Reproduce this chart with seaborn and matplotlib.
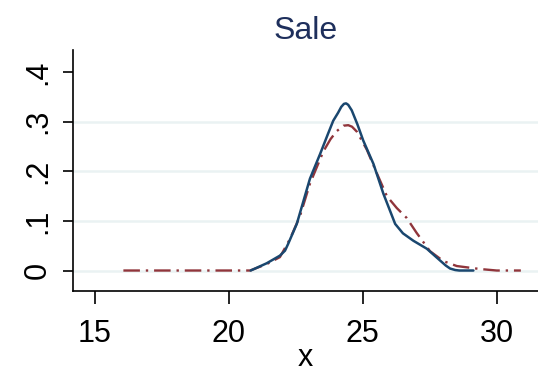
import matplotlib
matplotlib.use("Agg")
import matplotlib.pyplot as plt
import seaborn as sns
import pandas as pd

# Data
blue_x = [20.82, 21.42, 21.91, 22.10, 22.22, 22.54, 23.03, 23.41, 23.70, 23.90, 24.08, 24.20, 24.30, 24.38,
          24.46, 24.59, 24.80, 25.02, 25.40, 25.77, 26.21, 26.50, 26.89, 27.39, 27.89, 28.10, 28.26, 28.45,
          28.6, 29.13]
blue_y = [0.0, 0.0147, 0.030, 0.040, 0.054, 0.094, 0.185, 0.235, 0.275, 0.302, 0.318, 0.330, 0.336, 0.337,
          0.334, 0.323, 0.295, 0.262, 0.215, 0.155, 0.094, 0.075, 0.060, 0.044, 0.020, 0.010, 0.004, 0.001,
          0.0, 0.0]
red_x = [16.07, 18.0, 20.8, 21.42, 21.91, 22.29, 22.66, 23.03, 23.53, 23.80, 24.03, 24.28, 24.46, 24.60,
         24.78, 25.15, 25.52, 25.90, 26.27, 26.64, 27.01, 27.51, 28.01, 28.51, 29.38, 30.0, 30.9]
red_y = [0.0, 0.0, 0.0, 0.013, 0.027, 0.064, 0.110, 0.175, 0.240, 0.265, 0.281, 0.292, 0.293, 0.290,
         0.280, 0.244, 0.197, 0.150, 0.126, 0.106, 0.076, 0.039, 0.019, 0.009, 0.003, 0.0, 0.0]
x_ticks = [15, 20, 25, 30]
y_ticks = [0, 0.1, 0.2, 0.3, 0.4]
y_ticklabels = ["0", ".1", ".2", ".3", ".4"]
grid_levels = [0, 0.1, 0.2, 0.3]
title = "Sale"
xlabel = "x"

sns.set_theme(style="white")
plt.rcParams['font.family'] = ['Liberation Sans', 'DejaVu Sans']

fig = plt.figure(figsize=(5.38, 3.78), dpi=100)
ax = fig.add_axes([73/538, (378-291)/378, 1 - 73/538, (291-50)/378])

for g in grid_levels:
    ax.axhline(g, color="#eaf2f3", lw=1.8, zorder=0)

df_red = pd.DataFrame({"x": red_x, "y": red_y})
df_blue = pd.DataFrame({"x": blue_x, "y": blue_y})
sns.lineplot(data=df_red, x="x", y="y", ax=ax, color="#90353b", lw=1.7, sort=False,
             linestyle=(0, (7, 2.5, 1, 2.5)), zorder=2)
sns.lineplot(data=df_blue, x="x", y="y", ax=ax, color="#1a476f", lw=1.8, sort=False, zorder=3)

ax.set_xlim(14.19, 31.54)
ax.set_ylim(-0.0413, 0.4446)
ax.set_xticks(x_ticks)
ax.set_xticklabels([str(t) for t in x_ticks], fontsize=22, color="black")
ax.set_yticks(y_ticks)
ax.set_yticklabels(y_ticklabels, fontsize=22, rotation=90, va="center", color="black")
ax.tick_params(axis="x", direction="out", length=9, width=1.2, color="black", pad=11, bottom=True)
ax.tick_params(axis="y", direction="out", length=7.5, width=1.2, color="black", pad=7, left=True)
for s in ["top", "right"]:
    ax.spines[s].set_visible(False)
for s in ["left", "bottom"]:
    ax.spines[s].set_color("black")
    ax.spines[s].set_linewidth(1.2)
ax.set_xlabel(xlabel, fontsize=22, labelpad=-4, color="black")
ax.set_ylabel("")
ax.set_title(title, fontsize=23, color="#1e2f5c", pad=8)

fig.savefig("out.png", dpi=100)
